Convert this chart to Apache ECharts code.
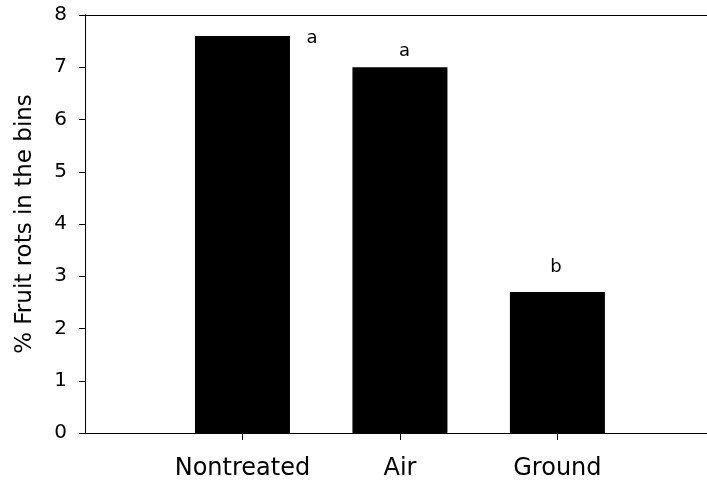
<!DOCTYPE html>
<html>
<head>
<meta charset="utf-8">
<script src="https://cdn.jsdelivr.net/npm/echarts@6/dist/echarts.min.js"></script>
<style>html,body{margin:0;padding:0;background:#fff}#c{width:707px;height:482px}</style>
</head>
<body>
<div id="c"></div>
<script>
const categories = ['Nontreated', 'Air', 'Ground'];
const positions = [1, 2, 3];
const values = [7.6, 7.0, 2.7];
const letters = ['a', 'a', 'b'];
const yTicks = [0, 1, 2, 3, 4, 5, 6, 7, 8];

const letterPos = [[117, 2], [52, -16], [46, -25]];
const FONT = 'DejaVu Sans';

const chart = echarts.init(document.getElementById('c'), null, {renderer: 'canvas'});
chart.setOption({
  animation: false,
  backgroundColor: '#fff',
  grid: {left: 85, right: 0, top: 15, bottom: 49},
  xAxis: [{
    type: 'value', min: 0, max: 3.95, position: 'bottom',
    splitLine: {show: false},
    axisLine: {show: true, onZero: false, lineStyle: {color: '#000', width: 1}},
    axisTick: {show: true, inside: false, length: 7, customValues: positions, lineStyle: {color: '#000'}},
    axisLabel: {show: true, customValues: positions, margin: 24, fontFamily: FONT, fontSize: 24, color: '#000',
      formatter: v => categories[positions.indexOf(v)] || ''}
  }, {
    type: 'value', min: 0, max: 3.95, position: 'top',
    splitLine: {show: false},
    axisLine: {show: true, onZero: false, lineStyle: {color: '#000', width: 1}},
    axisTick: {show: false}, axisLabel: {show: false}
  }],
  yAxis: {
    type: 'value', min: 0, max: 8, interval: 1,
    splitLine: {show: false},
    axisLine: {show: true, lineStyle: {color: '#000', width: 1}},
    axisTick: {show: true, inside: false, length: 6, lineStyle: {color: '#000'}},
    axisLabel: {margin: 18, fontFamily: FONT, fontSize: 20, color: '#000',
      formatter: v => yTicks.includes(v) ? String(v) : ''},
    name: '% Fruit rots in the bins', nameLocation: 'middle', nameGap: 48,
    nameTextStyle: {fontFamily: FONT, fontSize: 23, color: '#000'}
  },
  series: [{
    type: 'bar', xAxisIndex: 0, barWidth: 95,
    itemStyle: {color: '#000'},
    data: values.map((v, i) => ({
      value: [positions[i], v],
      label: {show: true, position: letterPos[i], formatter: letters[i], align: 'center', verticalAlign: 'middle',
        fontFamily: FONT, fontSize: 18, color: '#000'}
    }))
  }]
});
</script>
</body>
</html>
